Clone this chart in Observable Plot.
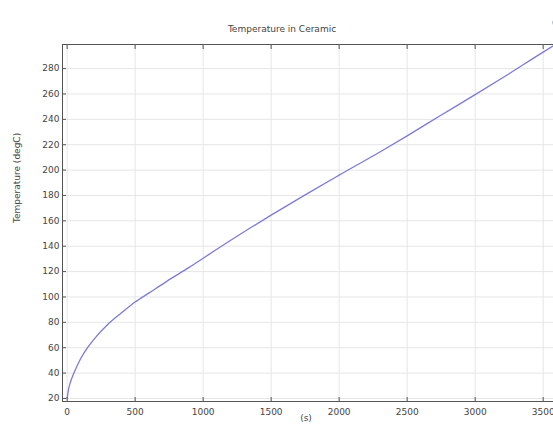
<!DOCTYPE html>
<html>
<head>
<meta charset="utf-8">
<script src="https://cdn.jsdelivr.net/npm/d3@7"></script>
<script src="https://cdn.jsdelivr.net/npm/@observablehq/plot@0.6"></script>
<style>
  html, body { margin: 0; padding: 0; background: #fff; overflow: hidden; }
  #chart { position: relative; width: 553px; height: 426px; }
</style>
</head>
<body>
<div id="chart"></div>
<script>
const chartTitle = "Temperature in Ceramic";
const xLabel = "(s)";
const yLabel = "Temperature (degC)";
const times = [0, 10, 25, 50, 100, 150, 200, 300, 400, 500, 600, 735, 900, 1000, 1200, 1348, 1500, 1750, 2000, 2328, 2500, 2745, 3000, 3250, 3500, 3576];
const temps = [20, 27, 33, 40, 51.5, 60, 67, 78.5, 87.5, 96, 103, 112.5, 123.5, 130.5, 144.5, 154.5, 164.5, 180.5, 196, 216, 227, 243, 259.5, 276, 293, 298];
const xTicks = [0, 500, 1000, 1500, 2000, 2500, 3000, 3500];
const yTicks = [20, 40, 60, 80, 100, 120, 140, 160, 180, 200, 220, 240, 260, 280];

const data = times.map((t, i) => ({t, T: temps[i]}));

const chart = Plot.plot({
  width: 553,
  height: 426,
  marginLeft: 62,
  marginRight: 0,
  marginTop: 44,
  marginBottom: 25,
  style: {fontFamily: "DejaVu Sans", fontSize: "9px", color: "#444", background: "#fff"},
  x: {domain: [-34, 3576]},
  y: {domain: [17.6, 299]},
  marks: [
    Plot.gridX(xTicks, {stroke: "#e6e6e6", strokeOpacity: 1}),
    Plot.gridY(yTicks, {stroke: "#e6e6e6", strokeOpacity: 1}),
    Plot.line(data, {x: "t", y: "T", stroke: "#7b7bd8", strokeWidth: 1.3, curve: "monotone-x"}),
    Plot.frame({anchor: "left", stroke: "#555"}),
    Plot.frame({anchor: "top", stroke: "#555"}),
    Plot.frame({anchor: "bottom", stroke: "#555"}),
    Plot.axisX(xTicks, {anchor: "bottom", tickSize: -4, tickPadding: 11, tickFormat: d => String(d), stroke: "#555", label: null, fill: "#444"}),
    Plot.axisX(xTicks, {anchor: "top", tickSize: -4, tickFormat: () => "", stroke: "#555", label: null}),
    Plot.axisY(yTicks, {anchor: "left", tickSize: -4, tickPadding: 7, tickFormat: d => String(d), stroke: "#555", label: null, fill: "#444"}),
    Plot.text([chartTitle], {frameAnchor: "top", dx: -26, dy: -19, fill: "#444", fontSize: 9}),
    Plot.text([xLabel], {frameAnchor: "bottom", dx: -2, dy: 19, fill: "#444", fontSize: 9}),
    Plot.text([yLabel], {frameAnchor: "left", dx: -45, rotate: -90, fill: "#444", fontSize: 9}),
    Plot.dot([0], {frameAnchor: "top-right", dx: 3, dy: -22, r: 4, fill: "#6f84a0", stroke: "none"})
  ]
});
document.getElementById("chart").appendChild(chart);
</script>
</body>
</html>
